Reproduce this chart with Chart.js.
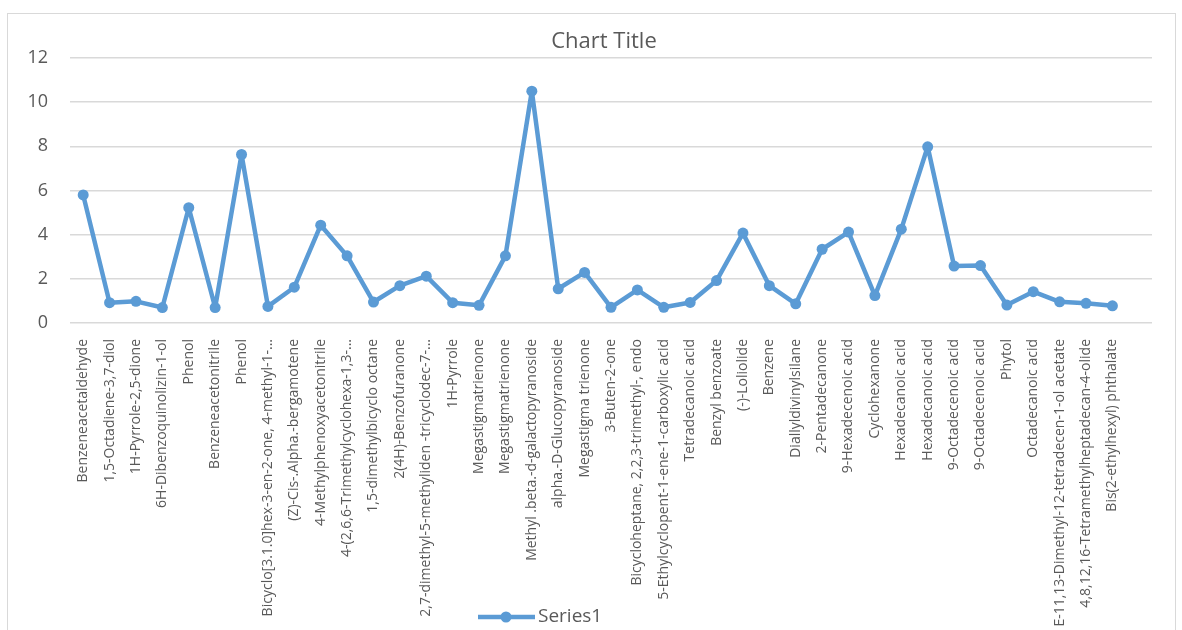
<!DOCTYPE html>
<html>
<head>
<meta charset="utf-8">
<script src="https://cdn.jsdelivr.net/npm/chart.js@4.4.1/dist/chart.umd.min.js"></script>
<style>
  html, body { margin: 0; padding: 0; background: #fff; overflow: hidden; }
  #frame {
    position: absolute; left: 7px; top: 13px; width: 1169px; height: 640px;
    border: 1px solid #d9d9d9; box-sizing: border-box;
  }
  #wrap { position: absolute; left: 0; top: 0; width: 1182px; height: 630px; }
</style>
</head>
<body>
<div id="frame"></div>
<div id="wrap"><canvas id="chart" width="1182" height="630"></canvas></div>
<script>
const chartTitle = 'Chart Title';
const seriesName = 'Series1';

const categories = [
  'Benzeneacetaldehyde',
  '1,5-Octadiene-3,7-diol',
  '1H-Pyrrole-2,5-dione',
  '6H-Dibenzoquinolizin-1-ol',
  'Phenol',
  'Benzeneacetonitrile',
  'Phenol',
  'Bicyclo[3.1.0]hex-3-en-2-one, 4-methyl-1-...',
  '(Z)-Cis-.Alpha.-bergamotene',
  '4-Methylphenoxyacetonitrile',
  '4-(2,6,6-Trimethylcyclohexa-1,3-...',
  '1,5-dimethylbicyclo octane',
  '2(4H)-Benzofuranone',
  '2,7-dimethyl-5-methyliden -tricyclodec-7-...',
  '1H-Pyrrole',
  'Megastigmatrienone',
  'Megastigmatrienone',
  'Methyl .beta.-d-galactopyranoside',
  'alpha.-D-Glucopyranoside',
  'Megastigma trienone',
  '3-Buten-2-one',
  'Bicycloheptane, 2,2,3-trimethyl-, endo',
  '5-Ethylcyclopent-1-ene-1-carboxylic acid',
  'Tetradecanoic acid',
  'Benzyl benzoate',
  '(-)-Loliolide',
  'Benzene',
  'Diallyldivinylsilane',
  '2-Pentadecanone',
  '9-Hexadecenoic acid',
  'Cyclohexanone',
  'Hexadecanoic acid',
  'Hexadecanoic acid',
  '9-Octadecenoic acid',
  '9-Octadecenoic acid',
  'Phytol',
  'Octadecanoic acid',
  'E-11,13-Dimethyl-12-tetradecen-1-ol acetate',
  '4,8,12,16-Tetramethylheptadecan-4-olide',
  'Bis(2-ethylhexyl) phthalate',
  ''
];

const series1 = [
  5.8, 0.92, 0.98, 0.7, 5.22, 0.7, 7.63, 0.75, 1.62, 4.43,
  3.04, 0.95, 1.69, 2.12, 0.92, 0.8, 3.04, 10.5, 1.55, 2.29,
  0.71, 1.5, 0.71, 0.93, 1.92, 4.07, 1.69, 0.87, 3.34, 4.12,
  1.24, 4.25, 7.98, 2.58, 2.6, 0.81, 1.42, 0.96, 0.89, 0.78,
  null
];

const yTicks = [0, 2, 4, 6, 8, 10, 12];

const blue = '#5b9bd5';
const grey = '#595959';
const gridGrey = '#d9d9d9';

// title and legend are drawn by hand so they sit where Excel put them
const excelBits = {
  id: 'excelBits',
  afterDraw(chart) {
    const ctx = chart.ctx;
    ctx.save();
    ctx.fillStyle = grey;
    ctx.textBaseline = 'middle';
    ctx.textAlign = 'center';
    ctx.font = '22px "Open Sans"';
    ctx.fillText(chartTitle, 604, 42);

    const y = 617;
    ctx.strokeStyle = blue;
    ctx.lineWidth = 4.5;
    ctx.beginPath();
    ctx.moveTo(478, y);
    ctx.lineTo(535, y);
    ctx.stroke();
    ctx.fillStyle = blue;
    ctx.beginPath();
    ctx.arc(506, y, 5.5, 0, Math.PI * 2);
    ctx.fill();
    ctx.fillStyle = grey;
    ctx.textAlign = 'left';
    ctx.font = '19px "Open Sans"';
    ctx.fillText(chart.data.datasets[0].label, 538, y);
    ctx.restore();
  }
};

new Chart(document.getElementById('chart'), {
  type: 'line',
  data: {
    labels: categories,
    datasets: [{
      label: seriesName,
      data: series1,
      borderColor: blue,
      backgroundColor: blue,
      borderWidth: 4.5,
      borderJoinStyle: 'round',
      borderCapStyle: 'round',
      pointRadius: 5.5,
      pointBackgroundColor: blue,
      pointBorderWidth: 0,
      tension: 0
    }]
  },
  options: {
    responsive: false,
    animation: false,
    layout: { padding: { top: 58, right: 30, bottom: 0, left: 0 } },
    plugins: {
      legend: { display: false },
      title: { display: false },
      tooltip: { enabled: false }
    },
    scales: {
      x: {
        offset: true,
        grid: { display: false },
        border: { display: false },
        ticks: {
          autoSkip: false,
          maxRotation: 90,
          minRotation: 90,
          padding: 8,
          color: grey,
          font: { family: '"Open Sans"', size: 14 }
        },
        afterFit(scale) { scale.height = 307; }
      },
      y: {
        min: yTicks[0],
        max: yTicks[yTicks.length - 1],
        grid: { color: gridGrey, lineWidth: 1.5, drawTicks: false },
        border: { display: false },
        ticks: {
          stepSize: yTicks[1] - yTicks[0],
          padding: 22,
          color: grey,
          font: { family: '"Open Sans"', size: 18 }
        },
        afterFit(scale) { scale.width = 70; }
      }
    }
  },
  plugins: [excelBits]
});
</script>
</body>
</html>
